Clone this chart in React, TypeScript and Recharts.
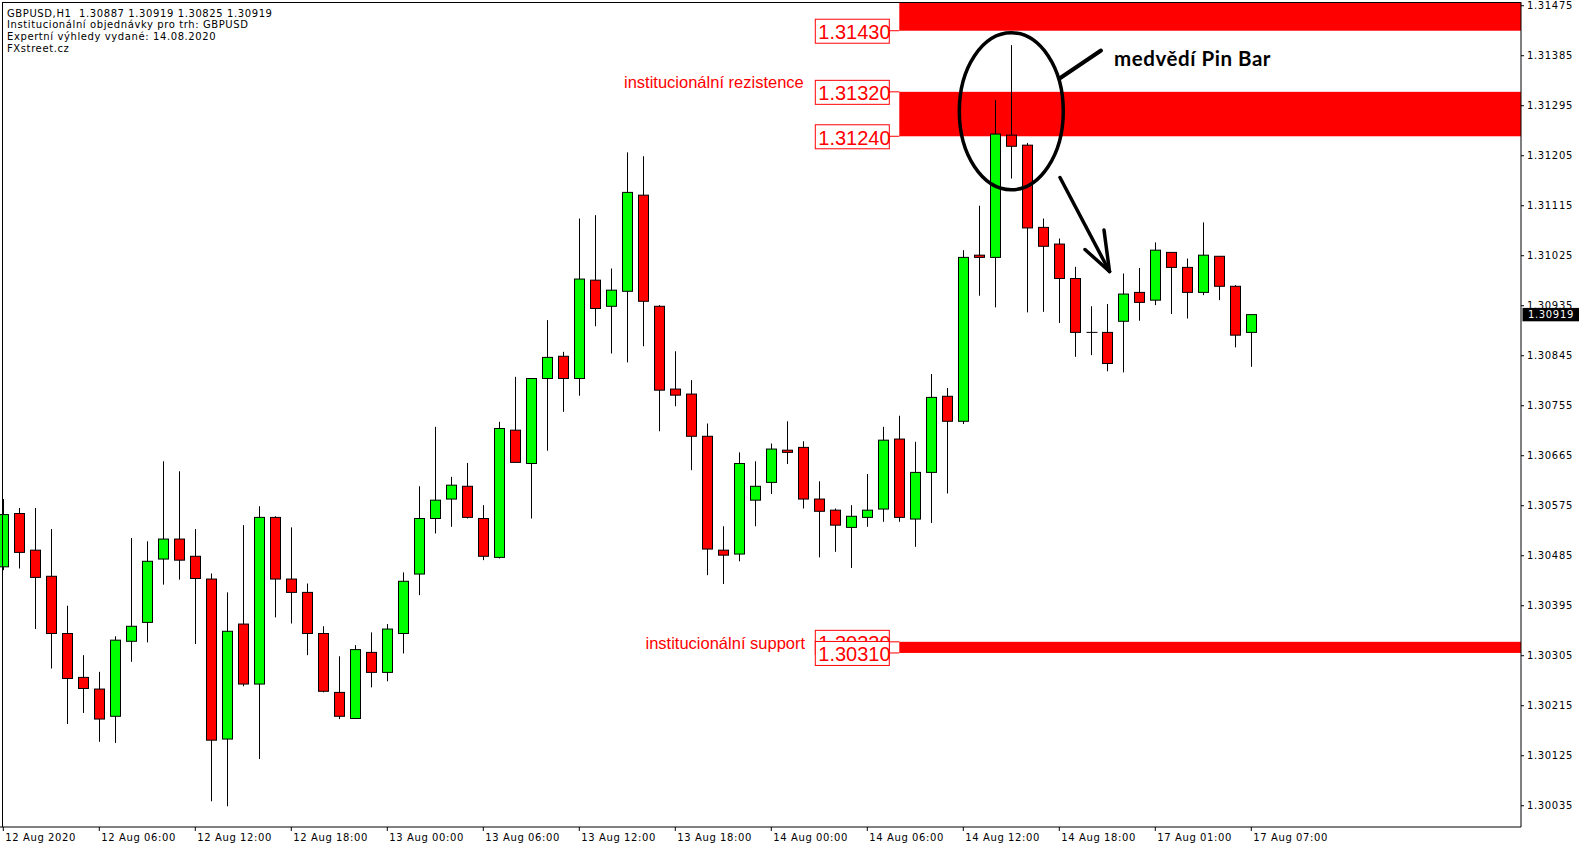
import React from "react";
import {
  ComposedChart,
  Bar,
  XAxis,
  YAxis,
  ReferenceArea,
  ReferenceLine,
  ReferenceDot,
} from "recharts";

// GBPUSD H1, 12.08.2020 00:00 -> 17.08.2020 07:00 (79 bars)
const opens = [
  1.30465, 1.30561, 1.30495, 1.30448, 1.30345, 1.30266, 1.30245, 1.30196, 1.30331, 1.30365,
  1.30479, 1.30515, 1.30484, 1.30443, 1.30155, 1.30362, 1.30254, 1.30554, 1.30443, 1.30419,
  1.30345, 1.30239, 1.30192, 1.30311, 1.30275, 1.30345, 1.30452, 1.30552, 1.30587, 1.3061,
  1.30552, 1.30482, 1.30711, 1.30651, 1.30804, 1.30844, 1.30804, 1.30981, 1.30934, 1.30961,
  1.31134, 1.30934, 1.30785, 1.30776, 1.307, 1.30495, 1.30488, 1.30585, 1.30617, 1.30675,
  1.3068, 1.30587, 1.30567, 1.30536, 1.30554, 1.30569, 1.30695, 1.30551, 1.30635, 1.30772,
  1.30727, 1.31026, 1.31022, 1.31242, 1.31224, 1.31076, 1.31046, 1.30984, 1.30887, 1.30887,
  1.30907, 1.30959, 1.30945, 1.31031, 1.31004, 1.30959, 1.31024, 1.3097, 1.30887,
];
const highs = [
  1.30587, 1.30571, 1.30571, 1.30533, 1.30395, 1.30306, 1.30276, 1.3034, 1.30517, 1.30511,
  1.30655, 1.30637, 1.30533, 1.30453, 1.30419, 1.3054, 1.30574, 1.30556, 1.30536, 1.30435,
  1.30358, 1.30304, 1.30324, 1.30347, 1.30362, 1.30455, 1.3061, 1.30717, 1.30627, 1.30652,
  1.30576, 1.30726, 1.30807, 1.30804, 1.30909, 1.30852, 1.31092, 1.31098, 1.31002, 1.31211,
  1.31204, 1.30936, 1.30853, 1.30801, 1.30723, 1.30538, 1.30671, 1.30655, 1.30687, 1.30727,
  1.30691, 1.30619, 1.3057, 1.30576, 1.30632, 1.30717, 1.30737, 1.3069, 1.30812, 1.30787,
  1.31035, 1.31115, 1.31305, 1.31404, 1.31228, 1.31092, 1.31056, 1.31005, 1.30934, 1.30938,
  1.30993, 1.31003, 1.31049, 1.31031, 1.3102, 1.31085, 1.31024, 1.30972, 1.30919,
];
const lows = [
  1.30459, 1.30462, 1.30353, 1.30282, 1.30182, 1.30202, 1.3015, 1.30148, 1.30294, 1.30329,
  1.30433, 1.30442, 1.30326, 1.30043, 1.30034, 1.3025, 1.30119, 1.30374, 1.30363, 1.30306,
  1.30239, 1.30191, 1.30191, 1.30248, 1.30259, 1.30309, 1.30414, 1.30525, 1.30537, 1.30552,
  1.30477, 1.3048, 1.30653, 1.30552, 1.30674, 1.30744, 1.30773, 1.30898, 1.30849, 1.30833,
  1.30862, 1.30709, 1.30754, 1.30639, 1.3045, 1.30434, 1.30475, 1.30538, 1.30596, 1.3065,
  1.3057, 1.30482, 1.30492, 1.30463, 1.30537, 1.30546, 1.30546, 1.30501, 1.30544, 1.30597,
  1.30722, 1.30953, 1.30932, 1.31164, 1.30923, 1.30924, 1.30904, 1.30843, 1.30846, 1.30817,
  1.30815, 1.30908, 1.30936, 1.3092, 1.30912, 1.30954, 1.30945, 1.3086, 1.30825,
];
const closes = [
  1.30559, 1.30491, 1.30446, 1.30345, 1.30264, 1.30246, 1.30191, 1.30333, 1.30358, 1.30475,
  1.30515, 1.30477, 1.30444, 1.30153, 1.30349, 1.30254, 1.30554, 1.30443, 1.30419, 1.30345,
  1.30241, 1.30196, 1.30316, 1.30275, 1.30353, 1.30439, 1.30552, 1.30585, 1.30612, 1.30554,
  1.30484, 1.30714, 1.30653, 1.30804, 1.30842, 1.30804, 1.30983, 1.3093, 1.30963, 1.31139,
  1.30943, 1.30783, 1.30774, 1.307, 1.30497, 1.30486, 1.30651, 1.3061, 1.30677, 1.30671,
  1.30587, 1.30565, 1.3054, 1.30556, 1.30567, 1.30693, 1.30554, 1.30635, 1.3077, 1.30727,
  1.31022, 1.31022, 1.31244, 1.31222, 1.31075, 1.31042, 1.30984, 1.30887, 1.30887, 1.30831,
  1.30956, 1.30941, 1.31035, 1.31004, 1.30959, 1.31026, 1.3097, 1.30882, 1.30919,
];

// one label every 6 bars
const timeLabels = [
  "12 Aug 2020", "12 Aug 06:00", "12 Aug 12:00", "12 Aug 18:00", "13 Aug 00:00",
  "13 Aug 06:00", "13 Aug 12:00", "13 Aug 18:00", "14 Aug 00:00", "14 Aug 06:00",
  "14 Aug 12:00", "14 Aug 18:00", "17 Aug 01:00", "17 Aug 07:00",
];
const LABEL_STEP = 6;
const EMPTY_SLOTS = 16; // free space right of the last bar

const priceTicks = [
  1.30035, 1.30125, 1.30215, 1.30305, 1.30395, 1.30485, 1.30575, 1.30665, 1.30755,
  1.30845, 1.30935, 1.31025, 1.31115, 1.31205, 1.31295, 1.31385, 1.31475,
];
const priceDomain = [1.299967, 1.314817];

// zones drawn from the bar at index 56
const zoneStart = 56;
const topZone = [1.3143, 1.3155];
const resistanceZone = [1.3124, 1.3132];
const supportZone = [1.3031, 1.3033];
const lastPrice = 1.30919;
const pinBarIndex = 63;
const pinRingCenter = 1.31285;

const headerLines = [
  "GBPUSD,H1  1.30887 1.30919 1.30825 1.30919",
  "Institucionální objednávky pro trh: GBPUSD",
  "Expertní výhledy vydané: 14.08.2020",
  "FXstreet.cz",
];

const GREEN = "#00ff00";
const RED = "#ff0000";
const UI_FONT = "'DejaVu Sans', Verdana, sans-serif";
const ARIAL = "'Liberation Sans', Arial, sans-serif";
const SLOT_HALF = 8;

const data = Array.from({ length: opens.length + EMPTY_SLOTS }, (_, i) =>
  i < opens.length
    ? { i, o: opens[i], h: highs[i], l: lows[i], c: closes[i], range: [lows[i], highs[i]] }
    : { i }
);
const timeTicks = timeLabels.map((_, k) => k * LABEL_STEP);

const Candle = (props: any) => {
  const { x, y, width, height, payload } = props;
  if (!payload || payload.range == null) return null;
  const { o, h, l, c } = payload;
  const k = height / (h - l);
  const cx = Math.round(x + width / 2) + 0.5;
  const yo = y + (h - o) * k;
  const yc = y + (h - c) * k;
  const top = Math.min(yo, yc);
  const bot = Math.max(yo, yc);
  const fill = c > o ? GREEN : RED;
  return (
    <g>
      <line x1={cx} x2={cx} y1={y} y2={y + height} stroke="#000" strokeWidth={1} />
      {bot - top < 0.8 ? (
        <line x1={cx - 5} x2={cx + 6} y1={top} y2={top} stroke="#000" strokeWidth={1} />
      ) : (
        <rect x={cx - 5} y={top} width={10} height={bot - top} fill={fill} stroke="#000" strokeWidth={1} />
      )}
    </g>
  );
};

const PriceBox = ({ x0, y, value }: { x0: number; y: number; value: number }) => (
  <g>
    <line x1={x0 - 10} x2={x0} y1={y} y2={y} stroke={RED} strokeWidth={1} />
    <rect x={x0 - 84} y={y - 11.5} width={74} height={24} fill="#fff" stroke={RED} strokeWidth={1} />
    <text x={x0 - 81} y={y + 8.5} fontSize={20} fontFamily={ARIAL} fill={RED}>
      {value.toFixed(5)}
    </text>
  </g>
);

const zoneShape = (zone: number[], marks: ("lo" | "hi")[]) => (p: any) => {
  const x0 = p.x + SLOT_HALF;
  const ys = { hi: p.y, lo: p.y + p.height };
  const vals = { hi: zone[1], lo: zone[0] };
  return (
    <g clipPath={p.clipPath}>
      <rect x={x0} y={p.y} width={p.width + 40} height={p.height} fill={RED} />
      {marks.map((m) => (
        <PriceBox key={m} x0={x0} y={ys[m]} value={vals[m]} />
      ))}
    </g>
  );
};

const TimeTick = (props: any) => {
  const { x, y, payload } = props;
  return (
    <text x={x + 2} y={y + 10} fontSize={10} letterSpacing={0.6} fontFamily={UI_FONT} fill="#000">
      {timeLabels[payload.value / LABEL_STEP]}
    </text>
  );
};

const PriceTick = (props: any) => {
  const { x, y, payload } = props;
  return (
    <text x={x} y={y} dy="0.36em" fontSize={10} letterSpacing={0.65} fontFamily={UI_FONT} fill="#000">
      {Number(payload.value).toFixed(5)}
    </text>
  );
};

const LastPriceTag = (p: any) => {
  const y = p.y1;
  return (
    <g>
      <rect x={1522.5} y={y - 6.7} width={56.5} height={13.4} fill="#000" />
      <text x={1528} y={y} dy="0.36em" fontSize={10} letterSpacing={0.65} fontFamily={UI_FONT} fill="#fff">
        {lastPrice.toFixed(5)}
      </text>
    </g>
  );
};

const PinRing = (p: any) => (
  <ellipse cx={p.cx} cy={p.cy} rx={52} ry={78.5} fill="none" stroke="#000" strokeWidth={3.5} />
);

export default function App() {
  return (
    <div
      style={{
        position: "absolute",
        left: 0,
        top: 0,
        width: 1585,
        height: 850,
        background: "#fff",
        overflow: "hidden",
      }}
    >
      <ComposedChart
        width={1585}
        height={850}
        data={data}
        margin={{ top: 2, right: 0, bottom: 0, left: -4.7 }}
        barCategoryGap={0}
        barGap={0}
      >
        <XAxis
          dataKey="i"
          type="category"
          ticks={timeTicks}
          interval={0}
          height={23}
          tickSize={4}
          tickMargin={0}
          padding={{ left: 0, right: 5.7 }}
          axisLine={{ stroke: "#000" }}
          tickLine={{ stroke: "#000" }}
          tick={<TimeTick />}
        />
        <YAxis
          orientation="right"
          width={64}
          domain={priceDomain}
          allowDataOverflow
          ticks={priceTicks}
          interval={0}
          tickSize={3}
          tickMargin={3}
          axisLine={{ stroke: "#000" }}
          tickLine={{ stroke: "#000" }}
          tick={<PriceTick />}
        />
        <ReferenceArea x1={zoneStart} y1={topZone[0]} y2={topZone[1]} ifOverflow="hidden" shape={zoneShape(topZone, ["lo"])} />
        <ReferenceArea x1={zoneStart} y1={resistanceZone[0]} y2={resistanceZone[1]} ifOverflow="hidden" shape={zoneShape(resistanceZone, ["hi", "lo"])} />
        <ReferenceArea x1={zoneStart} y1={supportZone[0]} y2={supportZone[1]} ifOverflow="hidden" shape={zoneShape(supportZone, ["hi", "lo"])} />
        <Bar dataKey="range" shape={Candle} isAnimationActive={false} />
        <ReferenceDot x={pinBarIndex} y={pinRingCenter} ifOverflow="visible" shape={PinRing} />
        <ReferenceLine y={lastPrice} shape={LastPriceTag} />
      </ComposedChart>

      <svg
        width={1585}
        height={850}
        style={{ position: "absolute", left: 0, top: 0, pointerEvents: "none" }}
      >
        <line x1={2} x2={1521} y1={2.5} y2={2.5} stroke="#000" strokeWidth={1} />
        <line x1={2.5} x2={2.5} y1={2} y2={827} stroke="#000" strokeWidth={1} />
        {headerLines.map((t, k) => (
          <text
            key={k}
            x={7}
            y={16.5 + k * 11.9}
            fontSize={10}
            letterSpacing={0.6}
            fontFamily={UI_FONT}
            fill="#000"
            style={{ whiteSpace: "pre" }}
          >
            {t}
          </text>
        ))}
        <text x={624} y={88} fontSize={16.5} fontFamily={ARIAL} fill={RED}>
          institucionální rezistence
        </text>
        <text x={645.5} y={649} fontSize={16.5} fontFamily={ARIAL} fill={RED}>
          institucionální support
        </text>
        <text x={1114} y={65.5} fontSize={20.5} fontWeight={700} letterSpacing={0.55} fontFamily="Lato, 'Open Sans', sans-serif" fill="#000">
          medvědí Pin Bar
        </text>
        <line x1={1059.5} y1={78.5} x2={1101} y2={50.5} stroke="#000" strokeWidth={4} strokeLinecap="round" />
        <g stroke="#000" strokeWidth={3.5} strokeLinecap="round" fill="none">
          <line x1={1060} y1={177.5} x2={1109.5} y2={271.5} />
          <line x1={1085} y1={249.5} x2={1109.5} y2={271.5} />
          <line x1={1104} y1={230} x2={1109.5} y2={271.5} />
        </g>
      </svg>
    </div>
  );
}
